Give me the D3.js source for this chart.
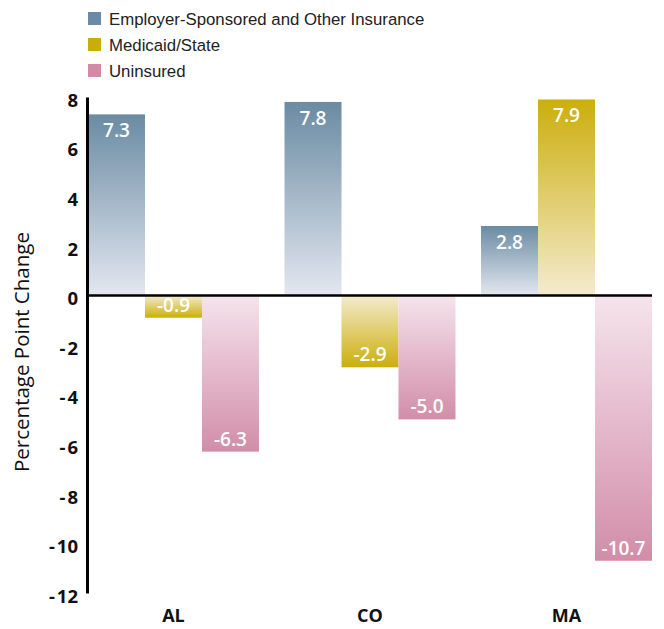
<!DOCTYPE html>
<html>
<head>
<meta charset="utf-8">
<script src="https://cdn.jsdelivr.net/npm/d3@7"></script>
<style>
  html, body { margin: 0; padding: 0; background: #fff; }
  svg { display: block; }
</style>
</head>
<body>
<svg id="chart" width="664" height="629"></svg>
<script>
// Percentage point change in coverage, by state
const states = ["AL", "CO", "MA"];
const seriesNames = ["Employer-Sponsored and Other Insurance", "Medicaid/State", "Uninsured"];
const employerValues = [7.3, 7.8, 2.8];
const medicaidValues = [-0.9, -2.9, 7.9];
const uninsuredValues = [-6.3, -5.0, -10.7];
const yTicks = [8, 6, 4, 2, 0, -2, -4, -6, -8, -10, -12];

const seriesValues = [employerValues, medicaidValues, uninsuredValues];
const seriesKeys = ["emp", "med", "unins"];
const legendColors = ["#6b8aa5", "#c9ad0a", "#d48aa5"];
// dark end / light end of each series gradient
const gradStops = {
  emp:   { dark: "#6a8ba3", light: "#e3e7f0" },
  med:   { dark: "#ccae0c", light: "#f4ebce" },
  unins: { dark: "#d28da8", light: "#f5e4ec" }
};

const svg = d3.select("#chart");
const margin = { left: 87 };
const font = "'Open Sans', sans-serif";
const hyphen = v => (v < 0 ? "-\u200A" : "") + Math.abs(v);

const y = d3.scaleLinear().domain([-12, 8]).range([593, 97]);
const x0 = d3.scaleBand().domain(states).range([88, 652]).paddingInner(0.13).paddingOuter(0);
const x1 = d3.scaleBand().domain(seriesKeys).range([0, x0.bandwidth()]).padding(0);

const rows = [];
states.forEach((s, i) => {
  seriesKeys.forEach((k, j) => rows.push({ state: s, key: k, value: seriesValues[j][i] }));
});

// Gradients: dark at the bar's far end, light near zero
const defs = svg.append("defs");
seriesKeys.forEach(k => {
  ["pos", "neg"].forEach(dir => {
    const g = defs.append("linearGradient")
      .attr("id", `g-${k}-${dir}`)
      .attr("x1", 0).attr("y1", 0).attr("x2", 0).attr("y2", 1);
    const top = dir === "pos" ? gradStops[k].dark : gradStops[k].light;
    const bot = dir === "pos" ? gradStops[k].light : gradStops[k].dark;
    g.append("stop").attr("offset", "0%").attr("stop-color", top);
    g.append("stop").attr("offset", "100%").attr("stop-color", bot);
  });
});

// Bars
const bars = svg.append("g");
bars.selectAll("rect").data(rows).join("rect")
  .attr("x", d => x0(d.state) + x1(d.key))
  .attr("width", x1.bandwidth())
  .attr("y", d => y(Math.max(0, d.value)))
  .attr("height", d => Math.abs(y(d.value) - y(0)))
  .attr("fill", d => `url(#g-${d.key}-${d.value >= 0 ? "pos" : "neg"})`);

// Value labels inside the bars
bars.selectAll("text").data(rows).join("text")
  .attr("x", d => x0(d.state) + x1(d.key) + x1.bandwidth() / 2)
  .attr("y", d => d.value >= 0 ? y(d.value) + 23 : y(d.value) - 6)
  .attr("text-anchor", "middle")
  .attr("fill", "#fff")
  .attr("font-family", font)
  .attr("font-weight", 600)
  .attr("font-size", 19)
  .text(d => (d.value < 0 ? "-" : "") + d3.format(".1f")(Math.abs(d.value)));

// Y axis
const yAxis = svg.append("g").attr("transform", `translate(${margin.left},0)`)
  .call(d3.axisLeft(y).tickValues(yTicks).tickSize(0).tickPadding(9).tickFormat(hyphen));
yAxis.select(".domain").attr("stroke", "#000").attr("stroke-width", 3);
yAxis.selectAll("text")
  .attr("dy", "0.5em")
  .attr("font-family", font)
  .attr("font-weight", 700)
  .attr("font-size", 18.5)
  .attr("fill", "#111");

// Zero line
svg.append("line")
  .attr("x1", margin.left).attr("x2", 652)
  .attr("y1", y(0)).attr("y2", y(0))
  .attr("stroke", "#000").attr("stroke-width", 2.5);

// Category labels
svg.append("g").selectAll("text").data(states).join("text")
  .attr("x", d => x0(d) + x0.bandwidth() / 2)
  .attr("y", 622)
  .attr("text-anchor", "middle")
  .attr("font-family", font)
  .attr("font-weight", 700)
  .attr("font-size", 18)
  .attr("fill", "#111")
  .text(d => d);

// Y axis title
svg.append("text")
  .attr("transform", `translate(29,352) rotate(-90)`)
  .attr("text-anchor", "middle")
  .attr("font-family", font)
  .attr("font-weight", 500)
  .attr("font-size", 20.5)
  .attr("fill", "#111")
  .text("Percentage Point Change");

// Legend
const legend = svg.append("g");
seriesNames.forEach((name, i) => {
  const row = legend.append("g").attr("transform", `translate(88,${12 + i * 26})`);
  row.append("rect").attr("width", 13).attr("height", 13).attr("fill", legendColors[i]);
  row.append("text")
    .attr("x", 21).attr("y", 12.5)
    .attr("font-family", "'Liberation Sans Narrow', 'Liberation Sans', sans-serif")
    .attr("font-size", 16.8)
    .attr("fill", "#222")
    .text(name);
});
</script>
</body>
</html>
